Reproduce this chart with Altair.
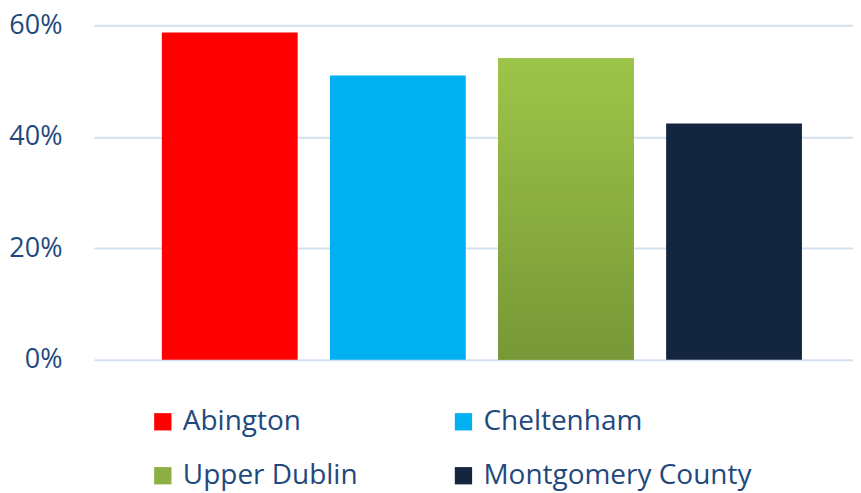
import altair as alt
import pandas as pd

areas = ["Abington", "Cheltenham", "Upper Dublin", "Montgomery County"]
shares = [0.587, 0.510, 0.541, 0.424]
colors = ["#ff0000", "#00b0f0", "#8cb043", "#14253f"]
y_ticks = [0, 0.2, 0.4, 0.6]

df = pd.DataFrame({"area": areas, "share": shares})

text_color = "#1f497d"
font = "Open Sans"

x_enc = alt.X("area:N", sort=areas, axis=None,
              scale=alt.Scale(paddingInner=0.192, paddingOuter=0.354, align=0.571))
y_enc = alt.Y("share:Q", scale=alt.Scale(domain=[0, 0.6]),
              axis=alt.Axis(values=y_ticks, format=".0%", title=None, domain=False,
                            ticks=False, labelFontSize=27, labelFont=font,
                            labelColor=text_color, labelPadding=32,
                            gridColor="#d5e1f0", gridWidth=2))

bars = alt.Chart(df).mark_bar().encode(
    x=x_enc,
    y=y_enc,
    color=alt.Color("area:N", sort=areas,
                    scale=alt.Scale(domain=areas, range=colors),
                    legend=alt.Legend(orient="none", legendX=55, legendY=383,
                                      direction="horizontal",
                                      columns=2, title=None, symbolType="square",
                                      symbolSize=300, symbolStrokeWidth=0,
                                      symbolOpacity=1,
                                      labelFontSize=28, labelFont=font,
                                      labelColor=text_color, labelOffset=6,
                                      columnPadding=91, rowPadding=26,
                                      labelLimit=400)),
)

grad = alt.Gradient(gradient="linear",
                    stops=[alt.GradientStop(color="#9dc549", offset=0),
                           alt.GradientStop(color="#789737", offset=1)],
                    x1=0, x2=0, y1=0, y2=1)

overlay = alt.Chart(df).transform_filter(
    alt.datum.area == "Upper Dublin"
).mark_bar(color=grad).encode(x=x_enc, y=y_enc)

chart = alt.layer(bars, overlay).properties(
    width=760, height=335,
    padding={"left": 0, "top": 3, "right": 0, "bottom": 2},
).configure_view(stroke=None)

chart.save("out.html", embed_options={"renderer": "svg", "actions": False})
